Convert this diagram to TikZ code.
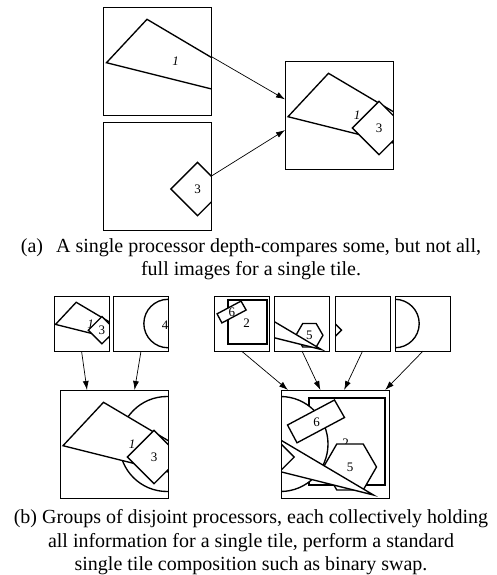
\documentclass[tikz,border=0pt]{standalone}
\usepackage{fontspec}
\setmainfont{Liberation Serif}
\usetikzlibrary{arrows.meta,calc}

% Scene primitives, given in world coordinates (one tile = 108 units, y downward)
\newcommand{\ShTri}{\path[shp] (43.5,12.3) -- (3,55.7) -- (200,105) -- cycle;
  \node[lab] at (72,54.5) {\textit{1}};}
\newcommand{\ShDia}{\path[shp] (94,40.3) -- (67.3,67) -- (94,93.7) -- (120.7,67) -- cycle;
  \node[lab] at (94,67.5) {3};}
\newcommand{\ShCirc}{\path[shp] (107,54) circle[radius=47.5];
  \node[lab] at (101,58) {4};}
\newcommand{\ShSq}{\path[thk] (135,7.5) rectangle (211,95);
  \node[lab] at (172,53.5) {2};}
\newcommand{\ShRect}{\path[shp] (114,35) -- (161,10) -- (171,27.5) -- (123.5,52.8) -- cycle;
  \node[lab] at (143,32) {6};}
\newcommand{\ShHex}{\path[shp] (150,77) -- (163.25,54.05) -- (189.75,54.05) -- (203,77)
  -- (189.75,99.95) -- (163.25,99.95) -- cycle;
  \node[lab] at (176.5,77) {5};}

% One framed tile: name, top-left corner, scale, world x-offset, contents
\newcommand{\Tile}[5]{%
  \begin{scope}[shift={#2}, scale=#3]
    \begin{scope}
      \clip (0,0) rectangle (108,108);
      \begin{scope}[shift={(#4,0)}] #5 \end{scope}
    \end{scope}
    \node[frm, minimum width={#3*108pt}, minimum height={#3*108pt}] (#1) at (54,54) {};
  \end{scope}}

\begin{document}
\begin{tikzpicture}[x=1pt, y=-1pt,
  shp/.style={draw=black, fill=white, line width=1.35pt},
  thk/.style={draw=black, fill=white, line width=2pt},
  frm/.style={draw=black, line width=0.9pt, inner sep=0pt, outer sep=0pt, rectangle},
  lab/.style={font=\fontsize{13}{13}\selectfont, inner sep=0pt},
  arr/.style={-{Latex[length=9pt,width=6pt]}, line width=0.7pt},
  captext/.style={font=\fontsize{20}{24}\selectfont, anchor=base, inner sep=0pt}]

\useasboundingbox (0,0) rectangle (497,575);
\fill[white] (0,0) rectangle (497,575);

% (a) two full images and the composited tile
\Tile{A}{(103.5,7)}{1}{0}{\ShTri}
\Tile{B}{(103.5,122)}{1}{0}{\ShDia}
\Tile{C}{(285,61)}{1}{0}{\ShTri\ShDia}

\draw[arr] ($(A.north east)!0.46!(A.south east)$) -- ($(C.north west)!0.355!(C.south west)$);
\draw[arr] (B.east) -- ($(C.north west)!0.64!(C.south west)$);

\node[captext] (capa1) at (251,252) {(a)\hspace{13pt}A single processor depth-compares some, but not all,};
\node[captext] (capa2) at (251,275) {full images for a single tile.};

% (b) groups of partial tiles and their composites
\Tile{b1}{(54,296)}{0.51}{0}{\ShTri\ShDia}
\Tile{b2}{(113.5,296)}{0.51}{0}{\ShCirc}
\Tile{b3}{(214,296)}{0.51}{-108}{\ShSq\ShRect}
\Tile{b4}{(274.5,296)}{0.51}{-108}{\ShHex\ShTri}
\Tile{b5}{(335,296)}{0.51}{-108}{\ShDia}
\Tile{b6}{(395.5,296)}{0.51}{-108}{\ShCirc}

\Tile{L}{(60,390)}{1}{0}{\ShCirc\ShTri\ShDia}
\Tile{R}{(281.5,390)}{1}{-108}{\ShSq\ShCirc\ShRect\ShHex\ShTri\ShDia}

\draw[arr] (b1.south) -- ($(L.north west)!0.25!(L.north east)$);
\draw[arr] (b2.south) -- ($(L.north west)!0.69!(L.north east)$);
\draw[arr] (b3.south) -- ($(R.north west)!0.06!(R.north east)$);
\draw[arr] (b4.south) -- ($(R.north west)!0.36!(R.north east)$);
\draw[arr] (b5.south) -- ($(R.north west)!0.58!(R.north east)$);
\draw[arr] (b6.south) -- ($(R.north west)!0.96!(R.north east)$);

\node[captext] (capb1) at (251,523) {(b) Groups of disjoint processors, each collectively holding};
\node[captext] (capb2) at (251,547) {all information for a single tile, perform a standard};
\node[captext] (capb3) at (251,570.5) {single tile composition such as binary swap.};
\end{tikzpicture}
\end{document}
